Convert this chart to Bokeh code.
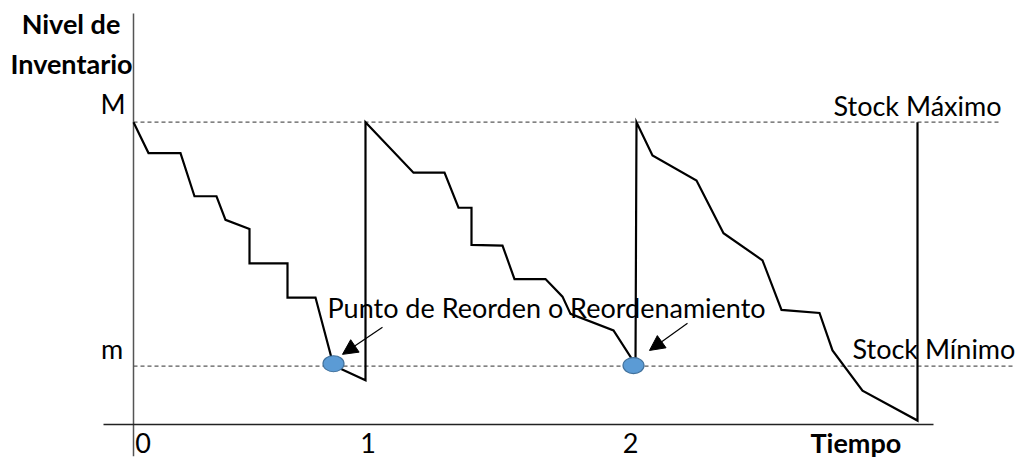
from bokeh.plotting import figure
from bokeh.models import ColumnDataSource, Range1d, Arrow, NormalHead
from bokeh.core.properties import value
from bokeh.embed import file_html
from bokeh.resources import INLINE

# ---------------- data (time units, inventory units) ----------------
stock_max = 100.0
stock_min = 19.3

# inventory level path (three cycles)
t_path = [0.0, 1.5, 4.7, 6.1, 8.3, 9.2, 11.6, 11.6, 15.4, 15.4, 18.2, 20.0, 23.2,
          23.2, 28.0, 31.1, 32.5, 33.8, 33.8, 36.9, 38.1, 41.2, 42.9, 43.7, 48.0, 50.2,
          50.3, 51.9, 56.3, 59.0, 62.9, 64.8, 68.6, 69.9, 72.9, 78.4, 78.4]
inv_path = [100.0, 89.8, 89.8, 75.5, 75.5, 67.7, 64.7, 53.3, 53.3, 42.0, 42.0, 19.5, 14.6,
            100.0, 83.3, 83.3, 71.7, 71.7, 59.4, 59.2, 48.1, 48.1, 42.3, 36.6, 31.1, 19.8,
            100.0, 89.0, 80.7, 63.3, 54.3, 37.9, 36.9, 24.5, 11.2, 1.3, 100.0]

# reorder points
reorder_t = [20.0, 50.0]
reorder_inv = [20.1, 19.5]

# arrows pointing at reorder points (start -> tip)
arrow_t0 = [24.9, 55.4]
arrow_i0 = [32.2, 33.5]
arrow_t1 = [20.9, 51.6]
arrow_i1 = [23.2, 24.5]

# axes extents
axis_t = [-3.0, 80.0]
axis_inv = [-10.5, 136.0]
max_line_t = [0.0, 86.7]
min_line_t = [0.0, 90.0]

# tick labels
tick_t = [0.95, 23.45, 49.7]
tick_labels = ["0", "1", "2"]
tick_inv = -6.0

# text labels
ylab_text = ["Nivel de", "Inventario"]
ylab_t = [-6.25, -6.2]
ylab_inv = [132.7, 119.3]

lvl_text = ["M", "m"]
lvl_t = [-0.8, -1.03]
lvl_inv = [106.2, 25.0]

stock_text = ["Stock Máximo", "Stock Mínimo"]
stock_t = [70.0, 71.9]
stock_inv = [105.5, 25.1]

reorder_label = "Punto de Reorden o Reordenamiento"
reorder_label_t = 19.4
reorder_label_inv = 38.8

xlab_text = "Tiempo"
xlab_t = 67.7
xlab_inv = -5.8

# ---------------- figure ----------------
p = figure(width=1015, height=459, x_range=Range1d(-13.3, 88.2), y_range=Range1d(-11.58, 140.26),
           min_border=0, toolbar_location=None, output_backend="svg",
           x_axis_type=None, y_axis_type=None)
p.grid.visible = False
p.outline_line_color = None
p.background_fill_color = "white"

FONT = value("Lato")
FS = "27px"

# dashed stock lines
p.line(max_line_t, [stock_max, stock_max], line_color="#595959", line_width=1.2, line_dash="4 3")
p.line(min_line_t, [stock_min, stock_min], line_color="#595959", line_width=1.2, line_dash="4 3")

# axes lines
p.line([0.0, 0.0], axis_inv, line_color="#555555", line_width=1.5)
p.line(axis_t, [0.0, 0.0], line_color="#222222", line_width=1.5)

# inventory path
p.line(t_path, inv_path, line_color="black", line_width=2.2, line_join="miter")

# reorder points
p.ellipse(reorder_t, reorder_inv, width=21, height=16, width_units="screen", height_units="screen",
          fill_color="#5B9BD5", line_color="#41719C", line_width=1.2)

# arrows
for a, b, c, d in zip(arrow_t0, arrow_i0, arrow_t1, arrow_i1):
    p.add_layout(Arrow(end=NormalHead(size=15, fill_color="black", line_color="black"),
                       x_start=a, y_start=b, x_end=c, y_end=d,
                       line_color="black", line_width=1.2))

# texts
p.text(ylab_t, ylab_inv, text=ylab_text, text_font=FONT, text_font_size=FS,
       text_font_style="bold", text_align="center", text_baseline="alphabetic", text_color="black")
p.text(lvl_t, lvl_inv, text=lvl_text, text_font=FONT, text_font_size=FS,
       text_align="right", text_baseline="alphabetic", text_color="black")
p.text(stock_t, stock_inv, text=stock_text, text_font=FONT, text_font_size=FS,
       text_align="left", text_baseline="alphabetic", text_color="black")
p.text([reorder_label_t], [reorder_label_inv], text=[reorder_label], text_font=FONT, text_font_size=FS,
       text_align="left", text_baseline="alphabetic", text_color="black")
p.text(tick_t, [tick_inv] * len(tick_t), text=tick_labels, text_font=FONT, text_font_size=FS,
       text_align="center", text_baseline="alphabetic", text_color="black")
p.text([xlab_t], [xlab_inv], text=[xlab_text], text_font=FONT, text_font_size=FS,
       text_font_style="bold", text_align="left", text_baseline="alphabetic", text_color="black")

open("out.html", "w").write(file_html(p, INLINE))
